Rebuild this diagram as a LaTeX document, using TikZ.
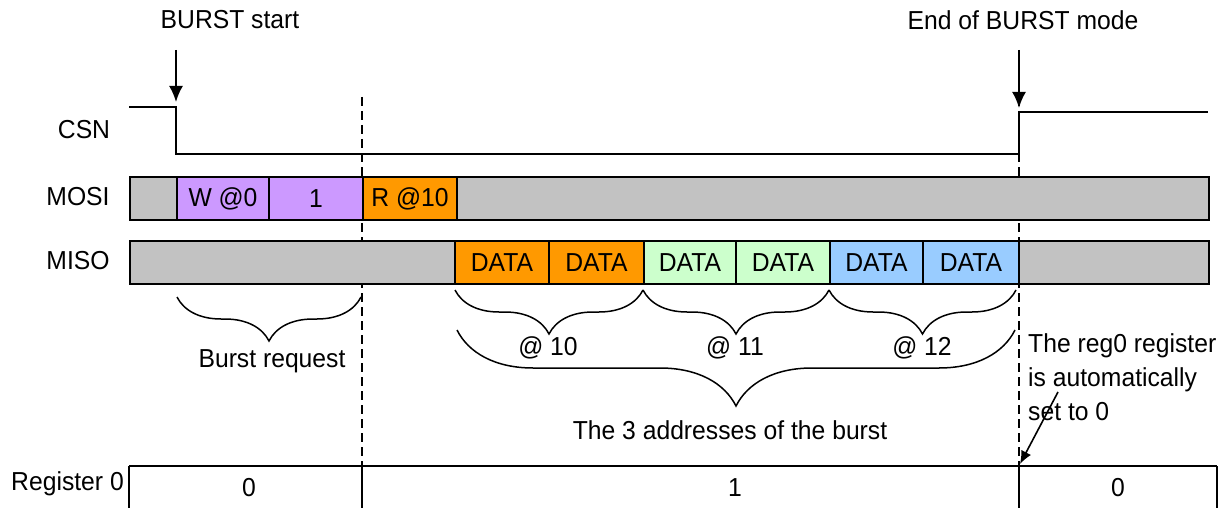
\documentclass[tikz,border=0pt]{standalone}
\usepackage{fontspec}
\setmainfont[FakeStretch=0.95]{Liberation Sans}
\usetikzlibrary{arrows.meta,decorations.pathreplacing}
\definecolor{hatchgray}{RGB}{194,194,194}
\definecolor{lilac}{RGB}{204,153,255}
\definecolor{orng}{RGB}{255,153,0}
\definecolor{lgreen}{RGB}{204,255,204}
\definecolor{lblue}{RGB}{153,204,255}
\begin{document}
\begin{tikzpicture}[x=1pt,y=-1pt,
  lbl/.style={font=\fontsize{26}{34}\selectfont, inner sep=0pt},
  cell/.style={draw, line width=2pt, minimum height=43pt, inner sep=0pt, anchor=north west, font=\fontsize{26}{28}\selectfont},
  hatchcell/.style={cell, fill=hatchgray},
  wire/.style={line width=2pt},
  guide/.style={line width=2.2pt, dash pattern=on 9pt off 5pt},
  arr/.style={line width=2pt, -{Latex[length=16pt,width=14pt]}},
  brc/.style={line width=1.5pt, decorate, decoration={brace, amplitude=#1}},
]
\useasboundingbox (0,0) rectangle (1223,508);

% labels
\node[lbl] (bstart) at (230,20) {BURST start};
\node[lbl] (bend) at (1023,20) {End of BURST mode};
\node[lbl] (csn) at (84,130) {CSN};
\node[lbl] (mosi) at (78,197) {MOSI};
\node[lbl] (miso) at (78,261) {MISO};
\node[lbl, anchor=east] (reg) at (124,484) {Register 0};

% arrows
\coordinate (bsTop) at (176,50);
\coordinate (bsTip) at (176,102);
\coordinate (beTop) at (1019,50);
\coordinate (beTip) at (1019,108);
\draw[arr] (bsTop) -- (bsTip);
\draw[arr] (beTop) -- (beTip);

% CSN waveform
\coordinate (c0) at (129,107);
\coordinate (c1) at (176,107);
\coordinate (c2) at (176,154);
\coordinate (c3) at (1019,154);
\coordinate (c4) at (1019,112);
\coordinate (c5) at (1208,112);
\draw[wire] (c0) -- (c1) -- (c2) -- (c3) -- (c4) -- (c5);

% dashed guides
\coordinate (g1a) at (362,97);
\coordinate (g1b) at (362,466);
\coordinate (g2a) at (1019,97);
\coordinate (g2b) at (1019,466);
\draw[guide] (g1a) -- (g1b);
\draw[guide] (g2a) -- (g2b);

% MOSI
\node[hatchcell, minimum width=47pt] (mosiA) at (129,176) {};
\node[cell, fill=lilac, minimum width=92pt] (w0) at (176,176) {W @0};
\node[cell, fill=lilac, minimum width=94pt] (one) at (268,176) {1};
\node[cell, fill=orng, minimum width=94pt] (r10) at (362,176) {R @10};
\node[hatchcell, minimum width=752pt] (mosiB) at (456,176) {};

% MISO
\node[hatchcell, minimum width=325pt] (misoA) at (129,240) {};
\node[cell, fill=orng, minimum width=94pt] (d1) at (454,240) {DATA};
\node[cell, fill=orng, minimum width=95pt] (d2) at (548,240) {DATA};
\node[cell, fill=lgreen, minimum width=92pt] (d3) at (643,240) {DATA};
\node[cell, fill=lgreen, minimum width=94pt] (d4) at (735,240) {DATA};
\node[cell, fill=lblue, minimum width=93pt] (d5) at (829,240) {DATA};
\node[cell, fill=lblue, minimum width=96pt] (d6) at (922,240) {DATA};
\node[hatchcell, minimum width=190pt] (misoB) at (1018,240) {};

% braces
\coordinate (b1r) at (361,297);
\coordinate (b1l) at (177,297);
\draw[brc=44pt] (b1r) -- (b1l);
\node[lbl] (breq) at (272,361) {Burst request};

\coordinate (a10r) at (643,290);
\coordinate (a10l) at (455,290);
\draw[brc=44pt] (a10r) -- (a10l);
\node[lbl] (t10) at (548,348) {@ 10};
\coordinate (a11r) at (829,290);
\coordinate (a11l) at (643,290);
\draw[brc=44pt] (a11r) -- (a11l);
\node[lbl] (t11) at (735,348) {@ 11};
\coordinate (a12r) at (1016,290);
\coordinate (a12l) at (829,290);
\draw[brc=44pt] (a12r) -- (a12l);
\node[lbl] (t12) at (922,348) {@ 12};

\coordinate (allr) at (1015,330);
\coordinate (alll) at (457,330);
\draw[brc=76pt] (allr) -- (alll);
\node[lbl] (tall) at (730,430) {The 3 addresses of the burst};

% note
\node[lbl, align=left, anchor=north west] (note) at (1028,333) {The reg0 register\\is automatically\\set to 0};
\coordinate (nTail) at (1058,392);
\coordinate (nTip) at (1020,464);
\draw[line width=1.6pt, -{Latex[length=13pt,width=11pt]}] (nTail) -- (nTip);

% register 0 row
\coordinate (r0) at (129,466);
\coordinate (r1) at (1217,466);
\draw[line width=1.6pt] (r0) -- (r1);
\coordinate (v0) at (129,510);
\coordinate (v1t) at (362,466);
\coordinate (v1) at (362,510);
\coordinate (v2t) at (1019,466);
\coordinate (v2) at (1019,510);
\coordinate (v3) at (1217,510);
\draw[line width=1.6pt] (r0) -- (v0) (v1t) -- (v1) (v2t) -- (v2) (r1) -- (v3);
\node[lbl] (val0) at (249,488) {0};
\node[lbl] (val1) at (735,488) {1};
\node[lbl] (val2) at (1118,488) {0};
\end{tikzpicture}
\end{document}
